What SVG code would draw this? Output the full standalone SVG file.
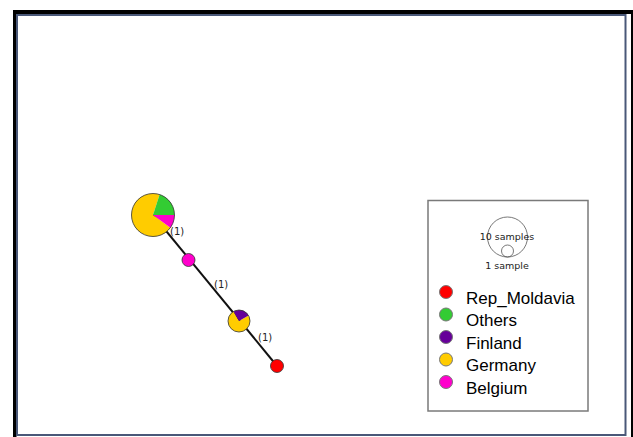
<svg xmlns="http://www.w3.org/2000/svg" width="633" height="437" viewBox="0 0 633 437">
  <style>
    .node { stroke: #333; stroke-width: 0.8; }
    .edge { stroke: #111; stroke-width: 2; fill: none; }
    .elabel { font-family: "DejaVu Sans", "Liberation Sans", sans-serif; font-size: 10px; fill: #222; }
    .small { font-family: "DejaVu Sans", "Liberation Sans", sans-serif; font-size: 9.5px; fill: #222; }
    .key { font-family: "Liberation Sans", Arial, sans-serif; font-size: 17px; fill: #000; }
    .dot { stroke: #777; stroke-width: 1; }
    .red { fill: #ff0000; }
    .green { fill: #33cc33; }
    .purple { fill: #660099; }
    .yellow { fill: #ffcc00; }
    .magenta { fill: #ff00cc; }
  </style>

  <!-- window frame -->
  <rect x="0" y="0" width="633" height="437" fill="#ffffff"/>
  <rect x="13" y="10" width="620" height="4" fill="#000"/>
  <rect x="13" y="10" width="3.5" height="427" fill="#000"/>
  <rect x="631" y="10" width="2" height="427" fill="#000"/>
  <rect x="17" y="15" width="608.5" height="420" fill="none" stroke="#4a5878" stroke-width="2"/>

  <!-- connectors -->
  <g id="edges">
    <line class="edge" x1="153" y1="215" x2="277" y2="366"/>
    <text class="elabel" x="170" y="235">(1)</text>
    <text class="elabel" x="214" y="288">(1)</text>
    <text class="elabel" x="258" y="341">(1)</text>
  </g>

  <!-- haplotype 1: Germany 7, Others 2, Belgium 1 -->
  <g id="hap1">
    <path class="yellow" d="M153,215 L170.39,227.64 A21.5,21.5 0 1 1 159.64,194.55 Z"/>
    <path class="green" d="M153,215 L159.64,194.55 A21.5,21.5 0 0 1 174.5,215 Z"/>
    <path class="magenta" d="M153,215 L174.5,215 A21.5,21.5 0 0 1 170.39,227.64 Z"/>
    <circle class="node" cx="153" cy="215" r="21.5" fill="none"/>
  </g>

  <!-- haplotype 2: Belgium -->
  <g id="hap2">
    <circle class="node magenta" cx="188.5" cy="260" r="6.5"/>
  </g>

  <!-- haplotype 3: Germany 3, Finland 1 -->
  <g id="hap3">
    <path class="yellow" d="M239,321 L248.53,315.5 A11,11 0 1 1 233.5,311.47 Z"/>
    <path class="purple" d="M239,321 L233.5,311.47 A11,11 0 0 1 248.53,315.5 Z"/>
    <circle class="node" cx="239" cy="321" r="11" fill="none"/>
  </g>

  <!-- haplotype 4: Rep_Moldavia -->
  <g id="hap4">
    <circle class="node red" cx="277" cy="366" r="6.5"/>
  </g>

  <!-- legend -->
  <g id="legend">
    <rect x="428" y="200.5" width="160" height="210.5" fill="#fff" stroke="#7a7a7a" stroke-width="1.5"/>
    <circle cx="507.5" cy="237" r="20" fill="none" stroke="#555" stroke-width="0.8"/>
    <circle cx="507.5" cy="251" r="6" fill="none" stroke="#555" stroke-width="0.8"/>
    <text class="small" x="507" y="240" text-anchor="middle">10 samples</text>
    <text class="small" x="507" y="269" text-anchor="middle">1 sample</text>

    <circle class="dot red" cx="446" cy="292" r="6.5"/>
    <circle class="dot green" cx="446" cy="314.5" r="6.5"/>
    <circle class="dot purple" cx="446" cy="337" r="6.5"/>
    <circle class="dot yellow" cx="446" cy="359.5" r="6.5"/>
    <circle class="dot magenta" cx="446" cy="382" r="6.5"/>

    <text class="key" x="466" y="303.5">Rep_Moldavia</text>
    <text class="key" x="466" y="326">Others</text>
    <text class="key" x="466" y="348.5">Finland</text>
    <text class="key" x="466" y="371">Germany</text>
    <text class="key" x="466" y="393.5">Belgium</text>
  </g>
</svg>
